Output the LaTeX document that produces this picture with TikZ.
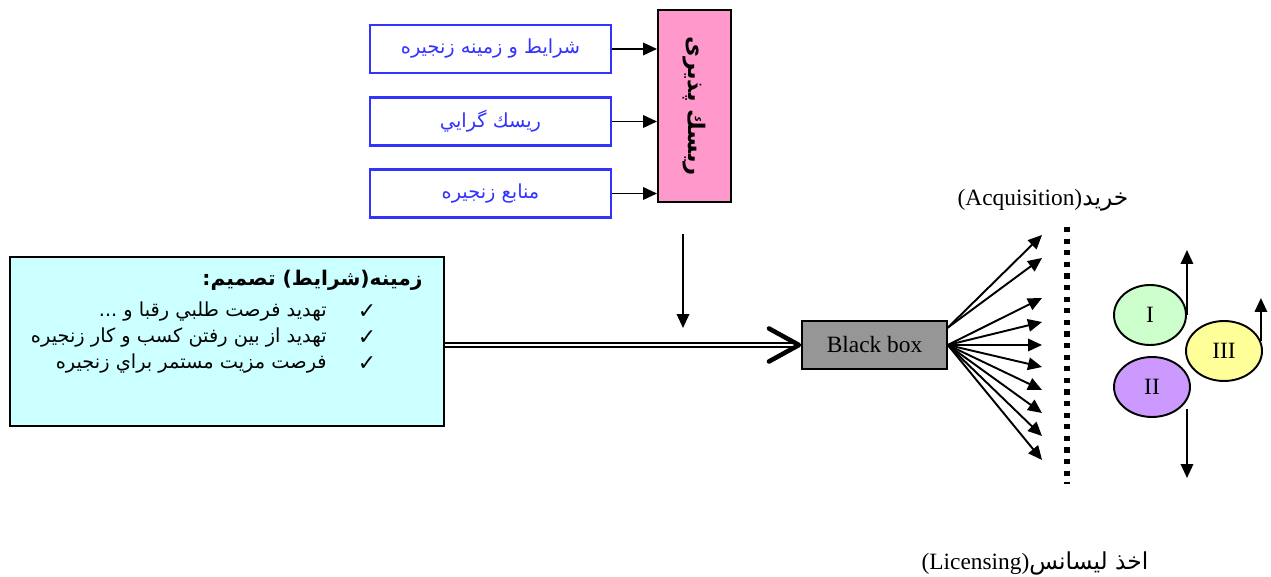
\documentclass[tikz,border=0pt]{standalone}
\usepackage{fontspec}
\usepackage{xcolor}
\setmainfont{Liberation Serif}
\newfontfamily\arabicfont[Script=Arabic]{DejaVu Sans}
\TeXXeTstate=1
\usetikzlibrary{arrows.meta, calc, shapes.geometric}
\newcommand{\fatext}[1]{{\arabicfont\beginR #1\endR}}
\definecolor{srcblue}{HTML}{3333FF}
\definecolor{riskpink}{HTML}{FF99CC}
\definecolor{ctxcyan}{HTML}{CCFFFF}
\definecolor{bbgray}{HTML}{969696}
\definecolor{onegreen}{HTML}{CCFFCC}
\definecolor{twopurple}{HTML}{CC99FF}
\definecolor{threeyellow}{HTML}{FFFF99}
\tikzset{
    srcbox/.style={rectangle, draw=srcblue, line width=1.2pt, fill=white, text=srcblue, minimum width=4.82cm, minimum height=0.96cm, inner sep=0pt, font=\fontsize{11}{13}\selectfont},
    riskblock/.style={rectangle, draw=black, line width=1.1pt, fill=riskpink, rotate=-90, minimum width=3.84cm, minimum height=1.46cm, inner sep=0pt, font=\fontsize{13}{15}\bfseries},
    ctxblock/.style={rectangle, draw=black, line width=1.1pt, fill=ctxcyan, minimum width=8.68cm, minimum height=3.38cm},
    itemtext/.style={inner sep=0pt, font=\fontsize{11}{13}\selectfont},
    bbox/.style={rectangle, draw=black, line width=0.9pt, fill=bbgray, minimum width=2.9cm, minimum height=0.96cm, font=\fontsize{13.3}{15}\selectfont},
    firm/.style={ellipse, draw=black, line width=1.1pt, minimum width=1.52cm, minimum height=1.2cm, inner sep=0pt, font=\fontsize{13.3}{15}\selectfont},
    sidelabel/.style={inner sep=0pt, font=\fontsize{13.3}{15}\selectfont},
    arrow/.style={line width=1.1pt, -{Triangle[length=0.28cm, width=0.25cm]}},
    bigarrow/.style={line width=1.1pt, double, double distance=1.3pt, -{Straight Barb[length=0.6cm, width=0.66cm, line width=2.6pt, line cap=round, line join=round]}}
}
\begin{document}
\begin{tikzpicture}[x=0.02cm, y=-0.02cm]
    \useasboundingbox (0,0) rectangle (1271,577);

    % sources of risk
    \node (cond) [srcbox] at (490.5,49) {\fatext{شرايط و زمينه زنجيره}};
    \node (tend) [srcbox] at (490.5,121.5) {\fatext{ريسك گرايي}};
    \node (res) [srcbox] at (490.5,193.5) {\fatext{منابع زنجيره}};
    \node (risk) [riskblock] at (694.5,106) {\fatext{ريسك پذيری}};

    \draw [arrow] (cond) -- (cond -| risk.south);
    \draw [arrow] (tend) -- (tend -| risk.south);
    \draw [arrow] (res) -- (res -| risk.south);

    % decision context
    \node (ctx) [ctxblock] at (227,341.5) {};
    \node (title) [itemtext, anchor=east, font=\fontsize{11.5}{14}\bfseries] at (423,280) {\fatext{زمينه(شرايط) تصميم:}};
    \foreach \ty/\txt [count=\k] in {312/{تهديد فرصت طلبي رقبا و ...}, 338/{تهديد از بين رفتن كسب و كار زنجيره}, 364/{فرصت مزيت مستمر براي زنجيره}} {
        \node (tick\k) [itemtext, font=\fontsize{12.5}{14}\selectfont] at (367,\ty) {\arabicfont ✓};
        \node (item\k) [itemtext, anchor=east] at (327,\ty) {\fatext{\txt}};
    }

    % black box
    \node (bb) [bbox] at (874.5,345) {Black box};
    \draw [bigarrow] (ctx.east |- bb.west) -- (bb.west);
    \coordinate (rtop) at (683,234);
    \coordinate (rbot) at (683,328);
    \draw [arrow] (rtop) -- (rbot);

    % outcomes
    \foreach \ty [count=\k] in {235,258} {
        \coordinate (fan\k) at (1042,\ty);
        \draw [arrow] ($(bb.east)!0.7!(bb.north east)$) -- (fan\k);
    }
    \foreach \ty [count=\k from 3] in {298,322,345,367,390,413,436,460} {
        \coordinate (fan\k) at (1042,\ty);
        \draw [arrow] (bb.east) -- (fan\k);
    }
    \coordinate (dtop) at (1067,227);
    \coordinate (dbot) at (1067,484);
    \draw [line width=3pt, dash pattern=on 3pt off 3.6pt] (dtop) -- (dbot);

    \node (acq) [sidelabel] at (1043,200) {(Acquisition)\fatext{خريد}};
    \node (lic) [sidelabel] at (1035,563) {(Licensing)\fatext{اخذ ليسانس}};

    \node (one) [firm, fill=onegreen, minimum width=1.44cm] at (1150,315) {I};
    \node (two) [firm, fill=twopurple] at (1152,387) {II};
    \node (three) [firm, fill=threeyellow] at (1224,351) {III};

    \coordinate (upone) at (1186,250);
    \coordinate (upthree) at (1260,298);
    \coordinate (downtop) at (1187,409);
    \coordinate (downbot) at (1187,478);
    \draw [arrow] (one.east) -- (one.east |- upone);
    \draw [arrow] (three.15) -- (three.15 |- upthree);
    \draw [arrow] (downtop) -- (downbot);
\end{tikzpicture}
\end{document}
